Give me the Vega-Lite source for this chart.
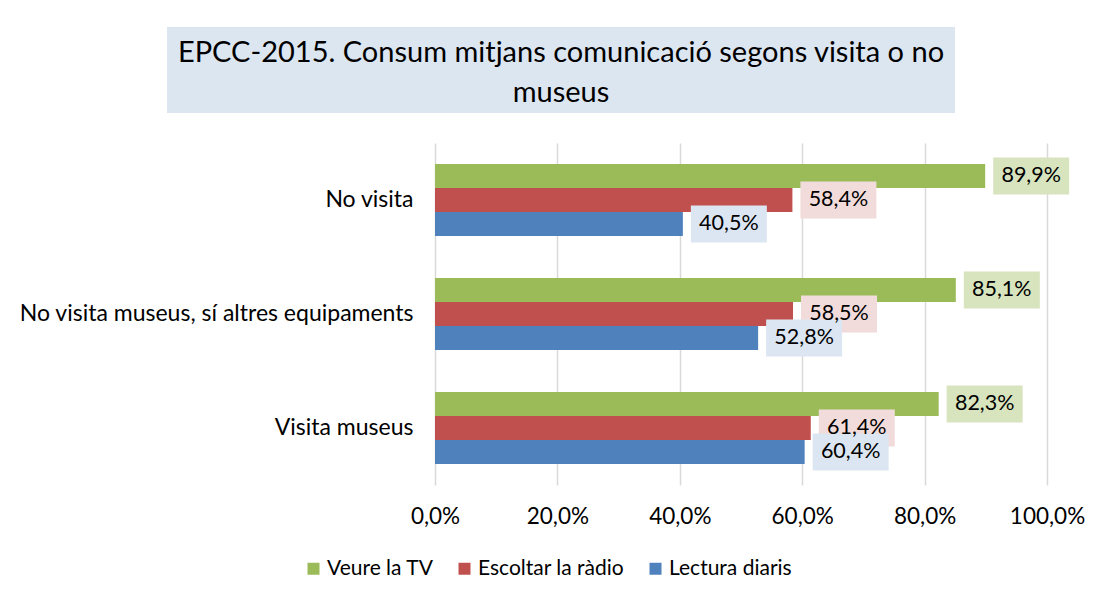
{
  "$schema": "https://vega.github.io/schema/vega-lite/v6.json",
  "padding": {"left": 18, "top": 27, "right": 5, "bottom": 5},
  "background": "white",
  "spacing": 30,
  "resolve": {"legend": {"color": "independent", "fill": "independent"}},
  "config": {
    "font": "Lato",
    "view": {"stroke": null},
    "locale": {"number": {"decimal": ",", "thousands": ".", "grouping": [3], "currency": ["", " €"]}}
  },
  "vconcat": [
    {
      "width": 520,
      "height": 86,
      "data": {"values": [
        {"line": 1, "t": "EPCC-2015. Consum mitjans comunicació segons visita o no"},
        {"line": 2, "t": "museus"}
      ]},
      "layer": [
        {
          "mark": {"type": "rect", "color": "#DCE6F1"},
          "encoding": {
            "x": {"datum": 0, "type": "quantitative", "scale": {"domain": [0, 1], "range": [-268, 520], "nice": false, "zero": false}, "axis": null},
            "x2": {"datum": 1}
          }
        },
        {
          "mark": {"type": "text", "fontSize": 29, "color": "#000000", "align": "center", "baseline": "middle", "dy": 3},
          "encoding": {
            "x": {"datum": 0.5, "type": "quantitative"},
            "y": {"field": "line", "type": "ordinal", "axis": null, "scale": {"type": "point", "padding": 0.575}},
            "text": {"field": "t"}
          }
        }
      ]
    },
    {
      "width": 612,
      "height": 342,
      "data": {"values": [
        {"g": "No visita", "s": "Veure la TV", "v": 0.899},
        {"g": "No visita", "s": "Escoltar la ràdio", "v": 0.584},
        {"g": "No visita", "s": "Lectura diaris", "v": 0.405},
        {"g": "No visita museus, sí altres equipaments", "s": "Veure la TV", "v": 0.851},
        {"g": "No visita museus, sí altres equipaments", "s": "Escoltar la ràdio", "v": 0.585},
        {"g": "No visita museus, sí altres equipaments", "s": "Lectura diaris", "v": 0.528},
        {"g": "Visita museus", "s": "Veure la TV", "v": 0.823},
        {"g": "Visita museus", "s": "Escoltar la ràdio", "v": 0.614},
        {"g": "Visita museus", "s": "Lectura diaris", "v": 0.604}
      ]},
      "encoding": {
        "y": {
          "field": "g", "type": "nominal",
          "sort": ["No visita", "No visita museus, sí altres equipaments", "Visita museus"],
          "scale": {"paddingInner": 0.368, "paddingOuter": 0.184},
          "axis": {"title": null, "domain": false, "ticks": false, "labelFontSize": 23, "labelColor": "#000000", "labelPadding": 22, "labelLimit": 600}
        },
        "yOffset": {
          "field": "s", "type": "nominal",
          "sort": ["Veure la TV", "Escoltar la ràdio", "Lectura diaris"],
          "scale": {"paddingInner": 0, "paddingOuter": 0}
        },
        "x": {
          "field": "v", "type": "quantitative",
          "scale": {"domain": [0, 1], "nice": false},
          "axis": {"title": null, "values": [0, 0.2, 0.4, 0.6, 0.8, 1], "format": ".1%", "grid": true, "gridColor": "#D9D9D9", "gridWidth": 1.5, "domain": false, "ticks": false, "labelFontSize": 22.5, "labelColor": "#000000", "labelPadding": 20, "labelFlush": false}
        }
      },
      "layer": [
        {
          "mark": {"type": "bar"},
          "encoding": {
            "color": {
              "field": "s", "type": "nominal",
              "scale": {"domain": ["Veure la TV", "Escoltar la ràdio", "Lectura diaris"], "range": ["#9BBB59", "#C0504D", "#4F81BD"]},
              "legend": {"title": null, "orient": "none", "legendX": -132, "legendY": 415, "direction": "horizontal", "symbolType": "square", "symbolSize": 144, "symbolStrokeWidth": 0, "labelFontSize": 21, "labelColor": "#000000", "labelOffset": 3, "columnPadding": 20}
            }
          }
        },
        {
          "mark": {"type": "rect", "xOffset": 8, "x2Offset": 84, "height": 37},
          "encoding": {
            "x2": {"field": "v"},
            "fill": {
              "field": "s", "type": "nominal",
              "scale": {"domain": ["Veure la TV", "Escoltar la ràdio", "Lectura diaris"], "range": ["#D7E4BD", "#F2DCDB", "#DCE6F2"]},
              "legend": null
            }
          }
        },
        {
          "mark": {"type": "text", "dx": 46, "fontSize": 21.5, "align": "center", "baseline": "middle", "color": "#000000"},
          "encoding": {
            "text": {"field": "v", "type": "quantitative", "format": ".1%"}
          }
        }
      ]
    }
  ]
}
